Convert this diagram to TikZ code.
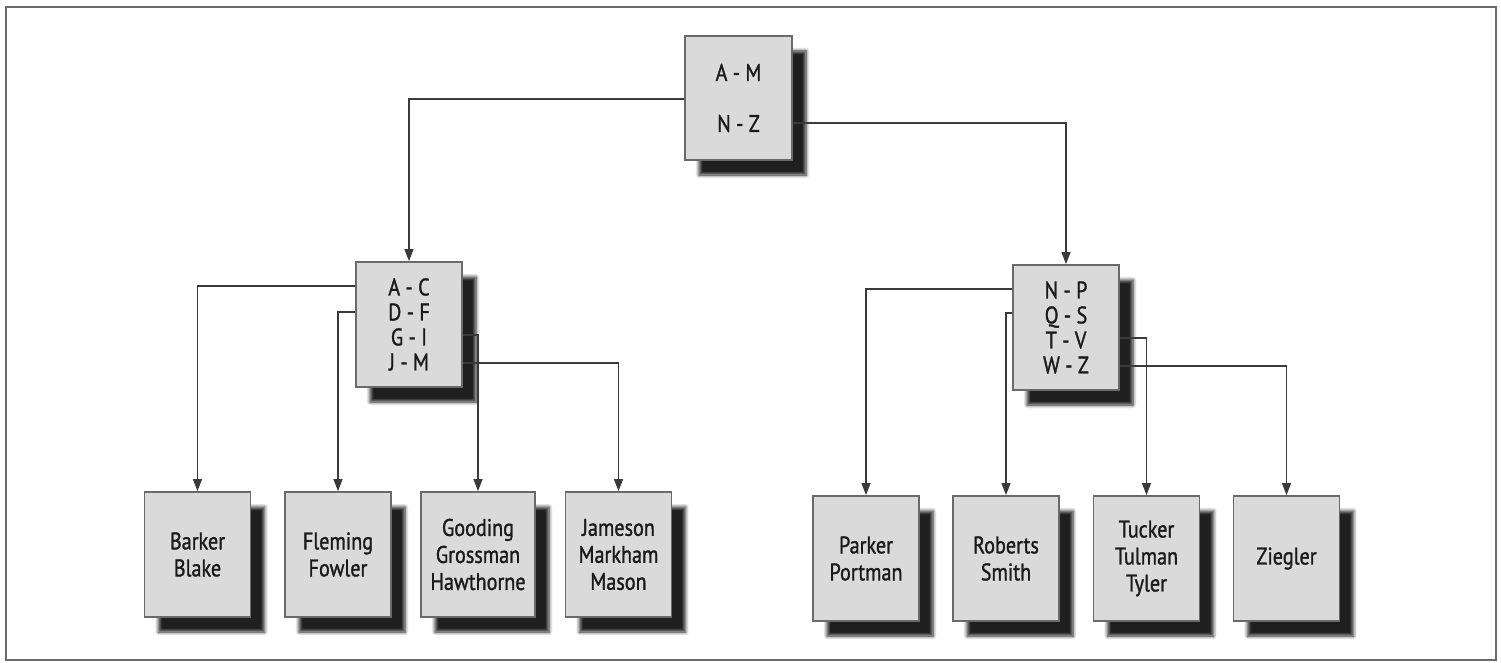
\documentclass[tikz,border=0pt]{standalone}
\usepackage{fontspec}
\setmainfont{PT Sans}[FakeStretch=0.84,FakeBold=1.2]
\usetikzlibrary{arrows.meta,shadows.blur}
\definecolor{boxfill}{HTML}{DADADA}
\definecolor{boxline}{HTML}{6A6A6A}
\definecolor{wire}{HTML}{3A3A3A}
\definecolor{ink}{HTML}{1A1A1A}
\begin{document}
\begin{tikzpicture}[x=1pt,y=-1pt,
  card/.style={draw=boxline,line width=1.8pt,fill=boxfill,inner sep=0pt,
    minimum width=106pt,minimum height=125pt,align=center,text=ink,
    font=\fontsize{24pt}{25pt}\selectfont,
    blur shadow={shadow xshift=14pt,shadow yshift=-15pt,shadow opacity=88,
      shadow blur radius=3.5pt,shadow blur steps=6}},
  leaf/.style={card,font=\fontsize{24pt}{27pt}\selectfont},
  conn/.style={draw=wire,line width=1.2pt,-{Triangle[length=12pt,width=9pt]}}]
\useasboundingbox (0,0) rectangle (1501,663);
% outer frame
\draw[boxline,line width=1.8pt] (6,7) rectangle (1496,660);

% root
\node[card,minimum width=107pt,minimum height=124pt] (root) at (738.5,98)
  {A - M\\[26pt]N - Z};

% second level
\node[card] (lm) at (409,324.5) {A - C\\D - F\\G - I\\J - M};
\node[card] (rm) at (1066,327.5) {N - P\\Q - S\\T - V\\W - Z};

% leaves under A-M
\node[leaf] (l1) at (197.5,554.5) {Barker\\Blake};
\node[leaf] (l2) at (338,554.5) {Fleming\\Fowler};
\node[leaf,minimum width=114pt] (l3) at (478,554.5) {Gooding\\Grossman\\Hawthorne};
\node[leaf] (l4) at (618.5,554.5) {Jameson\\Markham\\Mason};

% leaves under N-Z
\node[leaf] (r1) at (866,558.5) {Parker\\Portman};
\node[leaf] (r2) at (1006,558.5) {Roberts\\Smith};
\node[leaf] (r3) at (1146.5,558.5) {Tucker\\Tulman\\Tyler};
\node[leaf] (r4) at (1286.5,558.5) {Ziegler};

% root links
\draw[conn] (root.west |- 0,99) -| (lm.north);
\draw[conn] (root.east |- 0,123) -| (rm.north);

% left subtree links
\draw[conn] (lm.west |- 0,286) -| (l1.north);
\draw[conn] (lm.west |- 0,312) -| (l2.north);
\draw[conn] (lm.east |- 0,335) -| (l3.north);
\draw[conn] (lm.east |- 0,363) -| (l4.north);

% right subtree links
\draw[conn] (rm.west |- 0,289) -| (r1.north);
\draw[conn] (rm.west |- 0,313) -| (r2.north);
\draw[conn] (rm.east |- 0,338) -| (r3.north);
\draw[conn] (rm.east |- 0,366) -| (r4.north);
\end{tikzpicture}
\end{document}
